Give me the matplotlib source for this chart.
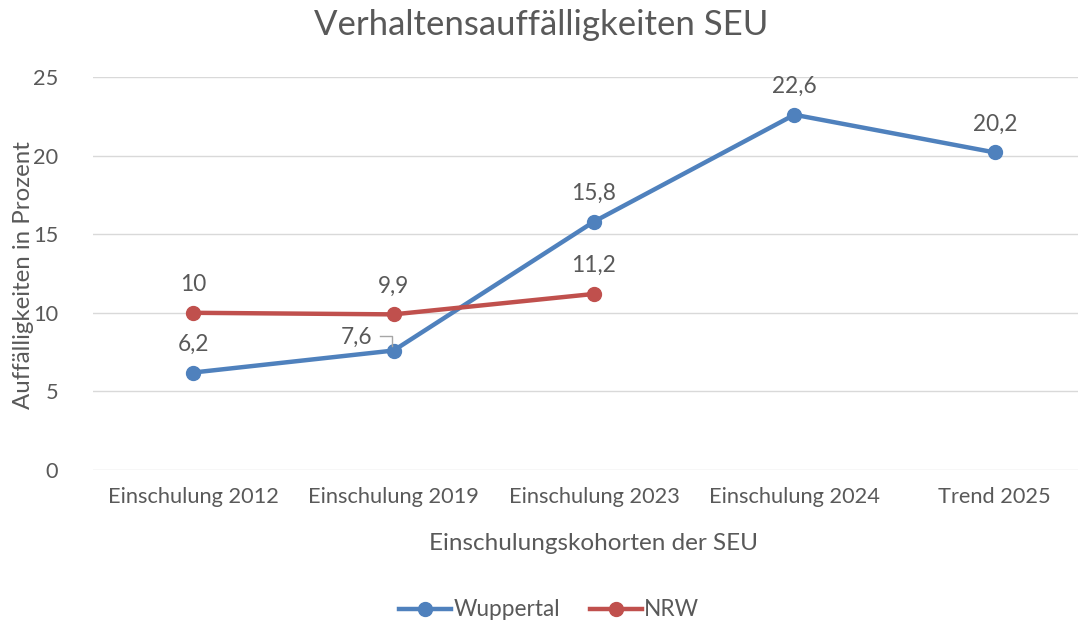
import matplotlib
matplotlib.use("Agg")
import matplotlib.pyplot as plt
from matplotlib.lines import Line2D

categories = ["Einschulung 2012", "Einschulung 2019", "Einschulung 2023", "Einschulung 2024", "Trend 2025"]
wuppertal = [6.2, 7.6, 15.8, 22.6, 20.2]
nrw = [10, 9.9, 11.2]
wup_labels = ["6,2", "7,6", "15,8", "22,6", "20,2"]
nrw_labels = ["10", "9,9", "11,2"]

BLUE = "#4F81BD"
RED = "#C0504D"
GRAY = "#595959"
plt.rcParams['font.family'] = ['Lato', 'DejaVu Sans']

W, H = 1078, 624
fig = plt.figure(figsize=(W/100, H/100), dpi=100)
ax = fig.add_axes([93/W, (H-470)/H, (W-93)/W, 393/H])

x = list(range(len(categories)))
ax.plot(x, wuppertal, color=BLUE, lw=3.2, marker='o', ms=10, solid_capstyle='round', zorder=3)
ax.plot(x[:len(nrw)], nrw, color=RED, lw=3.2, marker='o', ms=10, solid_capstyle='round', zorder=3)

ax.set_xlim(-0.5, -0.5 + (W-93)/200.4)
ax.set_ylim(0, 25)
ax.set_yticks([0, 5, 10, 15, 20, 25])
ax.grid(axis='y', color='#D9D9D9', lw=1)
ax.set_axisbelow(True)
for s in ax.spines.values():
    s.set_visible(False)
ax.tick_params(length=0, colors=GRAY, labelsize=15.7)
ax.tick_params(axis='y', pad=25)
ax.tick_params(axis='x', pad=12)
ax.set_xticks(x)
ax.set_xticklabels(categories)

LBL = 16.3
for i, (v, lab) in enumerate(zip(wuppertal, wup_labels)):
    if i == 1:
        ax.annotate(lab, (i, v), xytext=(-27, 9.7), textcoords='offset points',
                    ha='center', va='center', fontsize=LBL, color=GRAY)
    else:
        ax.annotate(lab, (i, v), xytext=(0, 20.5), textcoords='offset points',
                    ha='center', va='center', fontsize=LBL, color=GRAY)
for i, (v, lab) in enumerate(zip(nrw, nrw_labels)):
    ax.annotate(lab, (i, v), xytext=(0, 20.5), textcoords='offset points',
                ha='center', va='center', fontsize=LBL, color=GRAY)

# leader line for 7,6 label
fig.add_artist(Line2D([380/W, 392/W, 392/W], [1-336/H, 1-336/H, 1-346/H],
                      color='#A6A6A6', lw=1))

fig.text(541/W, 1-25/H, "Verhaltensauffälligkeiten SEU", ha='center', va='center',
         fontsize=25, color=GRAY)
fig.text(594/W, 1-543/H, "Einschulungskohorten der SEU", ha='center', va='center',
         fontsize=17.5, color=GRAY)
fig.text(24/W, 1-275/H, "Auffälligkeiten in Prozent", ha='center', va='center',
         rotation=90, fontsize=17.3, color=GRAY)

handles = [Line2D([], [], color=BLUE, lw=3.2, marker='o', ms=10),
           Line2D([], [], color=RED, lw=3.2, marker='o', ms=10)]
fig.legend(handles, ["Wuppertal", "NRW"], loc='center', bbox_to_anchor=(549/W, 1-610/H),
           ncol=2, frameon=False, fontsize=16.3, labelcolor=GRAY, handlelength=2.3,
           handletextpad=0.1, columnspacing=1.3)

fig.savefig("out.png", dpi=100)
